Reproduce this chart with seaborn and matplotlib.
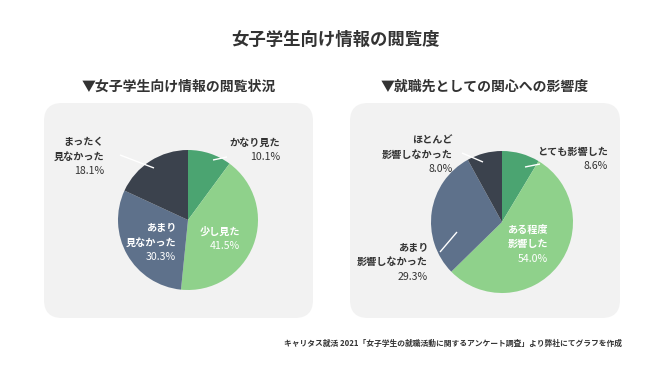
import matplotlib
matplotlib.use("Agg")
import matplotlib.pyplot as plt
import seaborn as sns
from matplotlib.patches import FancyBboxPatch

sns.set_theme(style="white")
plt.rcParams['font.family'] = ['Noto Sans CJK JP', 'DejaVu Sans']

# ---- data ----
main_title = "女子学生向け情報の閲覧度"
left_title = "▼女子学生向け情報の閲覧状況"
left_labels = ["かなり見た", "少し見た", "あまり\n見なかった", "まったく\n見なかった"]
left_values = [10.1, 41.5, 30.3, 18.1]
right_title = "▼就職先としての関心への影響度"
right_labels = ["とても影響した", "ある程度\n影響した", "あまり\n影響しなかった", "ほとんど\n影響しなかった"]
right_values = [8.6, 54.0, 29.3, 8.0]
colors = ["#4ba471", "#8fd18b", "#5e718b", "#3b424d"]
source_note = "キャリタス就活 2021「女子学生の就職活動に関するアンケート調査」より弊社にてグラフを作成"

# ---- layout (pixel space, y downward) ----
W, H = 670, 380
fig = plt.figure(figsize=(6.7, 3.8), dpi=100)
fig.patch.set_facecolor("white")
ax = fig.add_axes([0, 0, 1, 1])

def Y(y):
    return H - y

TEXT = "#333333"

def panel(x0, y0, x1, y1):
    p = FancyBboxPatch((x0 + 18, Y(y1) + 18), (x1 - x0) - 36, (y1 - y0) - 36,
                       boxstyle="round,pad=18", fc="#f2f2f2", ec="none", zorder=0)
    ax.add_patch(p)

panel(44, 103, 313, 318)
panel(350, 103, 620, 318)

# label layout: (dx, dy, inside?) relative to pie center, and optional leader (sx, sy, ex, ey)
left_layout = [(92, -70, False, (25, -60, 39, -63)),
               (52, 19, True, None),
               (-12, 23, True, None),
               (-84, -63, False, (-34, -52, -68, -65))]
right_layout = [(106, -63, False, (23, -55, 38, -58)),
                (46, 22, True, None),
                (-74, 40, False, (-45, 10, -62, 30)),
                (-49, -67, False, (-19, -60, -40, -69))]

LH = 14.5

def draw_pie(cx, cy, r, labels, values, layout):
    ax.pie(values, colors=colors, startangle=90, counterclock=False,
           center=(cx, Y(cy)), radius=r, frame=True,
           wedgeprops=dict(linewidth=0))
    for lab, val, (dx, dy, inside, lead) in zip(labels, values, layout):
        lines = lab.split("\n") + [f"{val:.1f}%"]
        n = len(lines)
        col = "white" if inside else TEXT
        for i, line in enumerate(lines):
            yy = cy + dy + (i - (n - 1) / 2) * LH
            is_pct = i == n - 1
            ax.text(cx + dx, Y(yy), line, ha="right", va="center",
                    fontsize=7.3 if not is_pct else 7.6,
                    fontweight="normal" if is_pct else "bold",
                    color=col, zorder=5)
        if lead is not None:
            sx, sy, ex, ey = lead
            ax.plot([cx + sx, cx + ex], [Y(cy + sy), Y(cy + ey)],
                    color="white", lw=1.0, zorder=4, solid_capstyle="butt")

draw_pie(188, 220, 70, left_labels, left_values, left_layout)
draw_pie(502, 222, 71, right_labels, right_values, right_layout)

ax.text(335, Y(40), main_title, ha="center", va="center", fontsize=12.5,
        fontweight="bold", color=TEXT)
ax.text(179, Y(87), left_title, ha="center", va="center", fontsize=10,
        fontweight="bold", color=TEXT)
ax.text(485, Y(87), right_title, ha="center", va="center", fontsize=10,
        fontweight="bold", color=TEXT)
ax.text(622, Y(343), source_note, ha="right", va="center", fontsize=5.6,
        fontweight="bold", color=TEXT)

ax.set_xlim(0, W)
ax.set_ylim(0, H)
ax.set_aspect("equal")
ax.axis("off")

fig.savefig("out.png", dpi=100, facecolor="white")
